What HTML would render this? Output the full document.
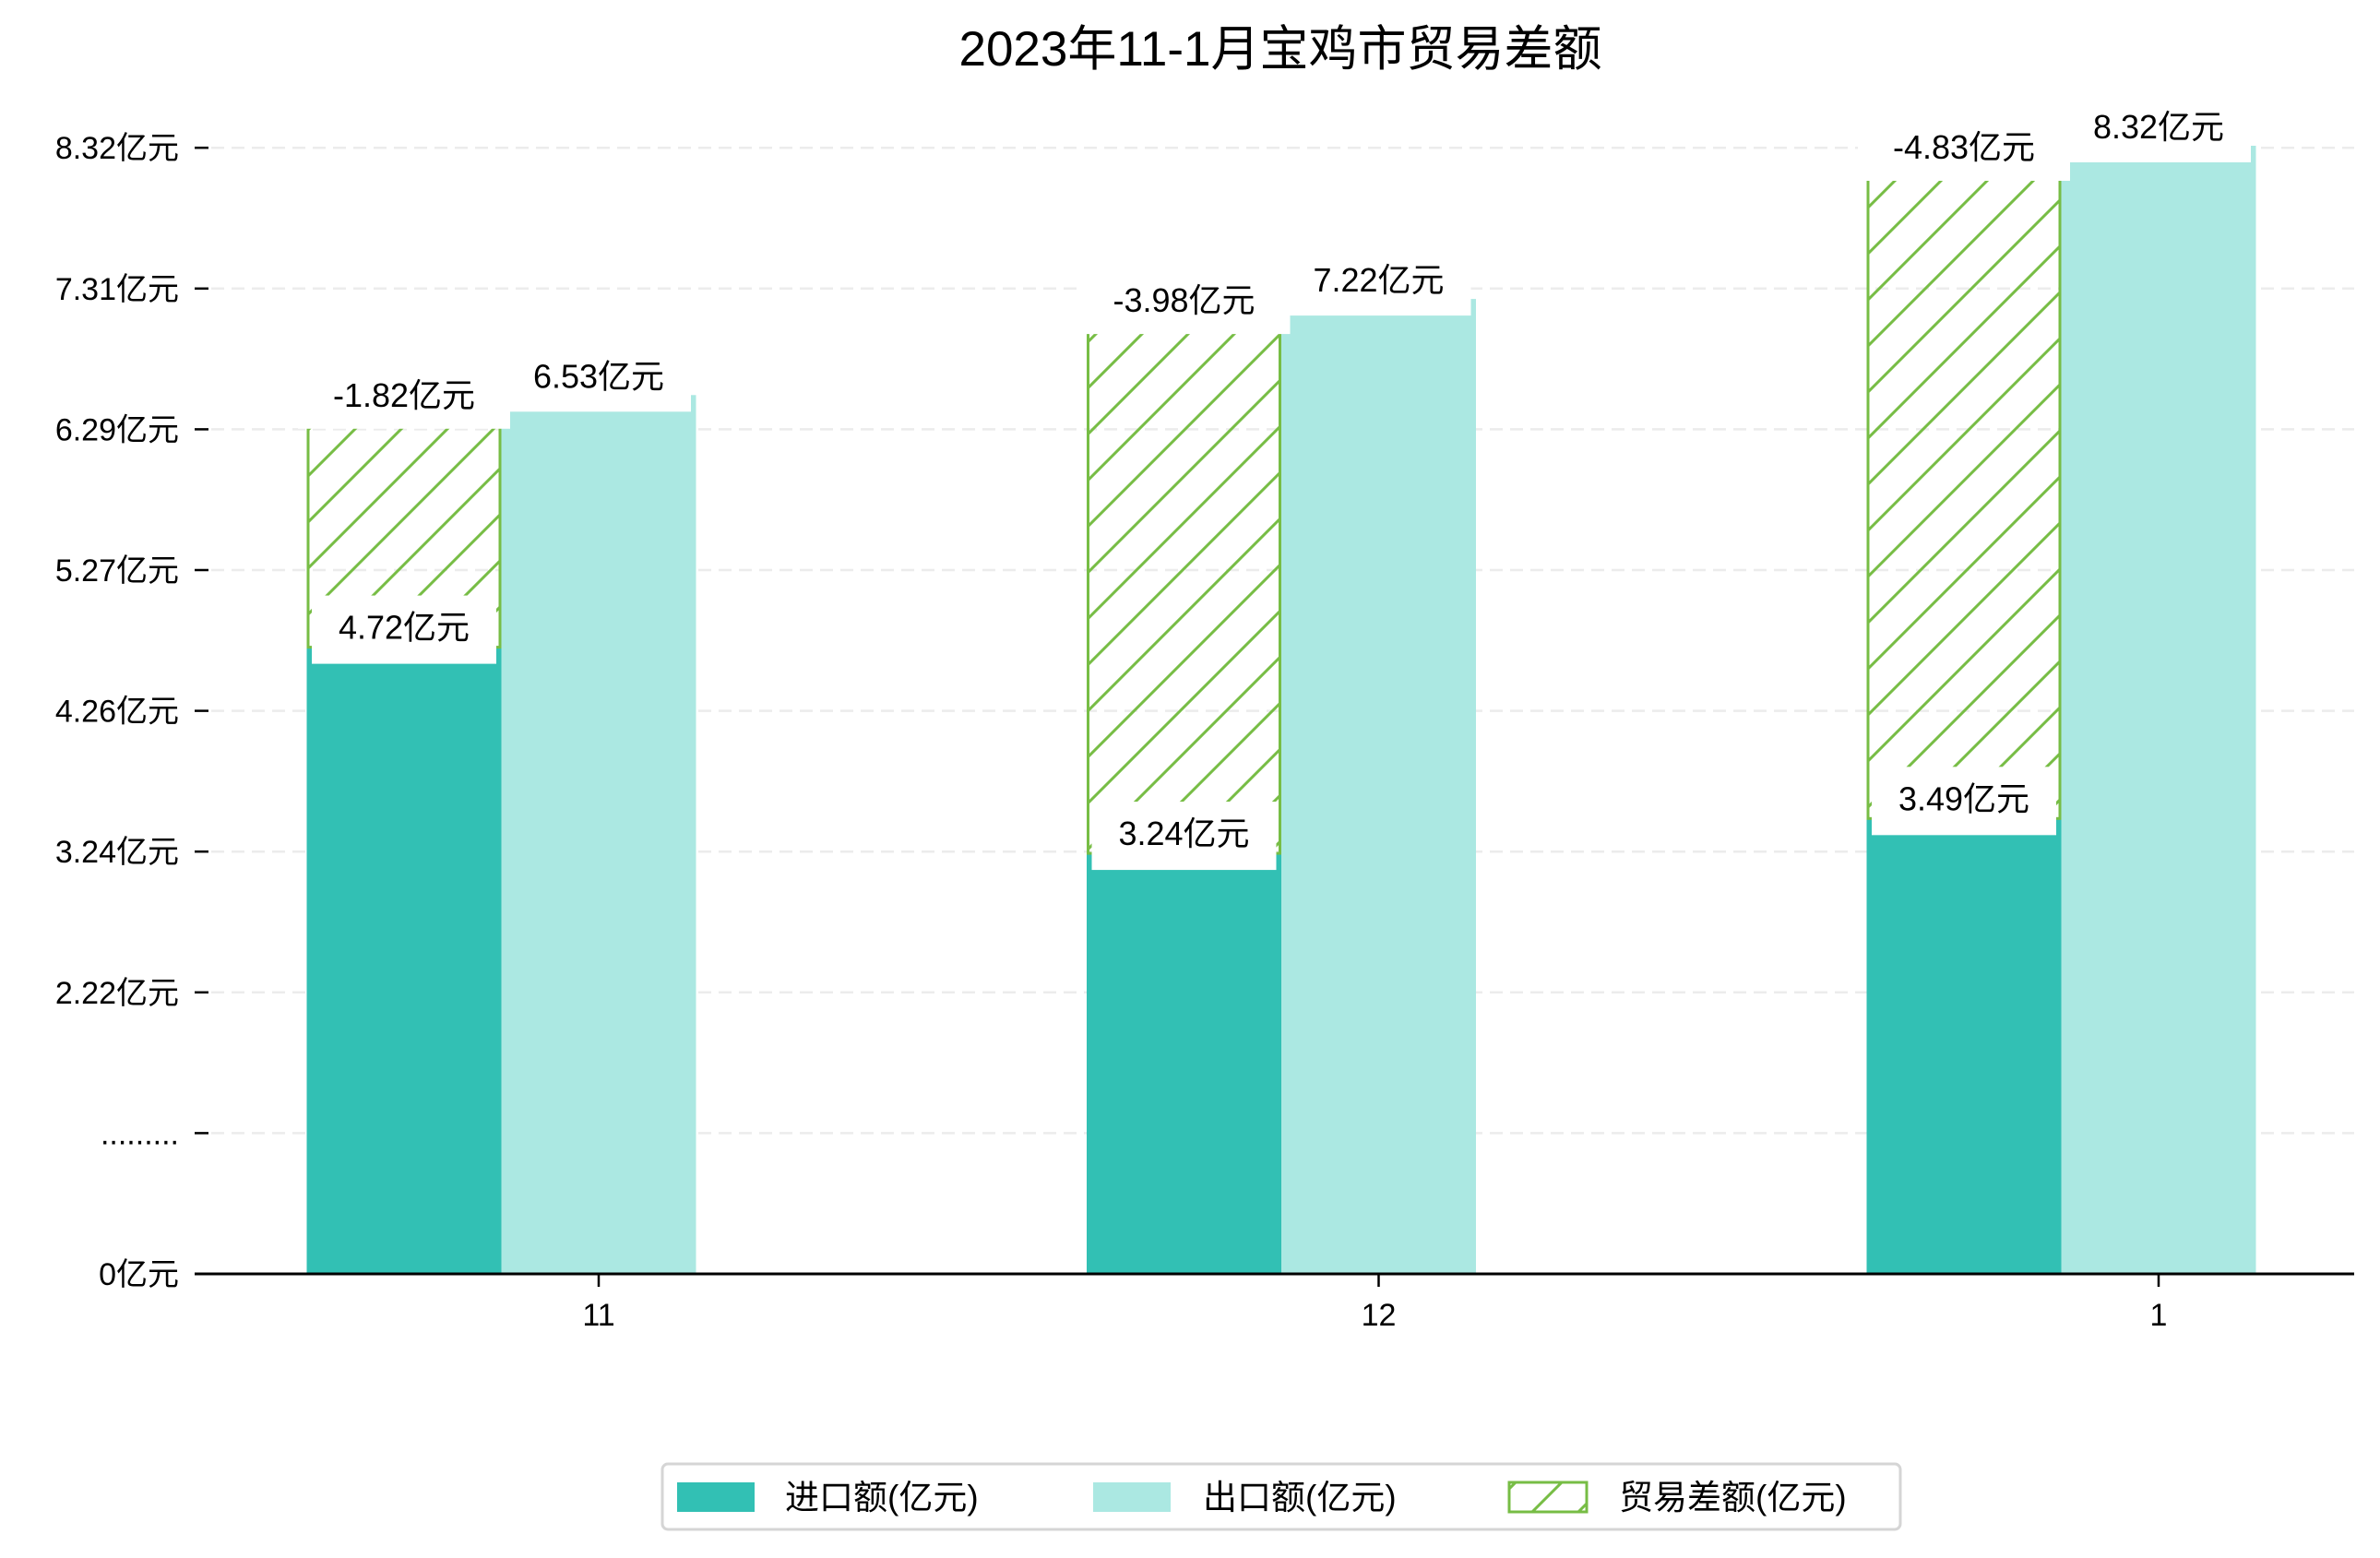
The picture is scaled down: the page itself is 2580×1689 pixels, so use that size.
<!DOCTYPE html>
<html><head><meta charset="utf-8"><style>
html,body{margin:0;padding:0;background:#fff;}
svg{display:block;font-family:"Liberation Sans","Noto Sans CJK SC","WenQuanYi Zen Hei",sans-serif;}
</style></head><body>
<svg id="chart" width="2580" height="1689" viewBox="0 0 2580 1689" xmlns="http://www.w3.org/2000/svg">
<defs>
<pattern id="hatch" patternUnits="userSpaceOnUse" width="50" height="50">
<line x1="-5" y1="55" x2="55" y2="-5" stroke="#77bd45" stroke-width="3"/>
<line x1="-30" y1="30" x2="30" y2="-30" stroke="#77bd45" stroke-width="3"/>
<line x1="20" y1="80" x2="80" y2="20" stroke="#77bd45" stroke-width="3"/>
</pattern>
</defs>
<text x="1388" y="71" text-anchor="middle" font-size="53">2023年11-1月宝鸡市贸易差额</text>
<g id="grid"></g><g id="bars"></g><g id="labels"></g><g id="axes"></g>
<g>
<rect x="718" y="1587" width="1342" height="71" rx="6" fill="#fff" stroke="#d5d5d5" stroke-width="3"/>
<rect x="734" y="1607" width="84" height="32" fill="#32c0b4"/>
<text x="851" y="1636" font-size="37">进口额(亿元)</text>
<rect x="1185" y="1607" width="84" height="32" fill="#abe8e2"/>
<text x="1304" y="1636" font-size="37">出口额(亿元)</text>
<rect x="1636" y="1607" width="84" height="32" fill="url(#hatch)" stroke="#77bd45" stroke-width="3"/>
<text x="1755" y="1636" font-size="37">贸易差额(亿元)</text>
</g>
</svg>
<script>
const categories = ["11", "12", "1"];
const importValues = [4.72, 3.24, 3.49];
const exportValues = [6.53, 7.22, 8.32];
const balanceValues = [-1.82, -3.98, -4.83];
const tickLabels = ["0亿元", ".........", "2.22亿元", "3.24亿元", "4.26亿元", "5.27亿元", "6.29亿元", "7.31亿元", "8.32亿元"];

const NS = "http://www.w3.org/2000/svg";
const baseY = 1381, topV = 8.32, topY = 158, pxPerUnit = 151;
function yScale(v){ return topY + (topV - v) * pxPerUnit; }
function xCenter(i){ return 649 + i * 845.5; }
const barW = 211;
function mk(tag, attrs, parent){ const e=document.createElementNS(NS,tag); for(const k in attrs) e.setAttribute(k,attrs[k]); parent.appendChild(e); return e; }
const grid=document.getElementById('grid'), bars=document.getElementById('bars'), labels=document.getElementById('labels'), axes=document.getElementById('axes');

tickLabels.forEach((t,i)=>{
  const y = baseY - i*152.6;
  if(i>0){
    const g = mk('line',{x1:229,x2:2552,y1:y,y2:y,stroke:'#ececec','stroke-width':2.5,'stroke-dasharray':'14,8'},grid);
    
    
    const tk = mk('line',{x1:211,x2:226,y1:y,y2:y,stroke:'#000','stroke-width':2.5},axes);
    
    
  }
  const tx = mk('text',{x:194,y:y+12,'text-anchor':'end','font-size':34},axes);
  tx.textContent=t;
  
  
});
const ax = mk('line',{x1:211,x2:2552,y1:baseY,y2:baseY,stroke:'#000','stroke-width':3},axes);



function label(txt,cx,cy,boxTop,boxBot,w,name){
  const r = mk('rect',{x:cx-w/2,y:boxTop,width:w,height:boxBot-boxTop,fill:'#fff'},labels);
  
  
  const t = mk('text',{x:cx,y:cy+12,'text-anchor':'middle','font-size':36},labels);
  t.textContent=txt;
  
  
}

categories.forEach((c,i)=>{
  const xc = xCenter(i);
  const xi = xc - 1.5*barW, xe = xc - 0.5*barW;
  const yi = yScale(importValues[i]), ye = yScale(exportValues[i]);
  const yb = yScale(importValues[i] + Math.abs(balanceValues[i]));
  const bi = mk('rect',{x:xi,y:yi,width:barW,height:baseY-yi,fill:'#32c0b4'},bars);
  
  
  const be = mk('rect',{x:xe,y:ye,width:barW,height:baseY-ye,fill:'#abe8e2'},bars);
  
  
  const bb = mk('rect',{x:xi+1.5,y:yb,width:barW-3,height:yi-yb,fill:'url(#hatch)',stroke:'#77bd45','stroke-width':3},bars);
  
  
  label(importValues[i].toFixed(2)+'亿元', xi+barW/2, yi-21, yi-56, yi+18, 200, 'import-value-label');
  label(exportValues[i].toFixed(2)+'亿元', xe+barW/2, ye-20, ye-56, ye+18, 200, 'export-value-label');
  label(balanceValues[i].toFixed(2)+'亿元', xi+barW/2, yb+2, yb-36, yb+38, 230, 'balance-value-label');
  const tk = mk('line',{x1:xc,x2:xc,y1:baseY,y2:baseY+14,stroke:'#000','stroke-width':2.5},axes);
  
  
  const tl = mk('text',{x:xc,y:1437,'text-anchor':'middle','font-size':34},axes);
  tl.textContent=c;
  
  
});
</script>
</body></html>
